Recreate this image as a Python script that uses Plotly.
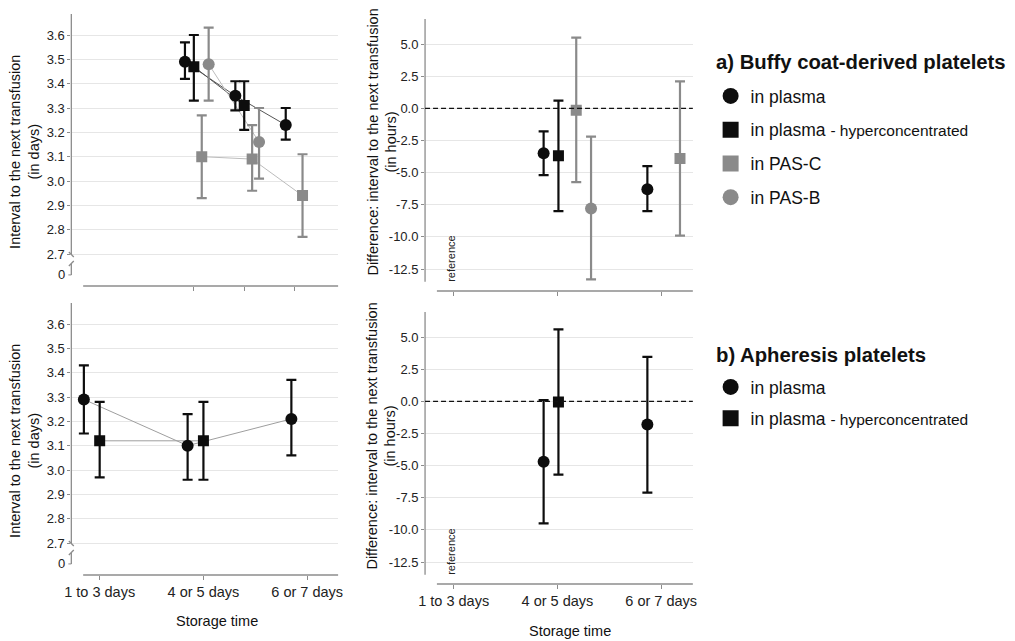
import plotly.graph_objects as go

# The page adds an 8px body margin; the figure is sized to fill the rest of the window.
OFF = 8
W, H = 1015 - OFF, 641 - OFF
FONT = "Liberation Sans, Arial, Helvetica, sans-serif"

categories = ["1 to 3 days", "4 or 5 days", "6 or 7 days"]

# ---- a) Buffy coat-derived platelets: interval to next transfusion (days)
bc_plasma_days = [3.49, 3.35, 3.23]
bc_plasma_days_lo = [3.42, 3.29, 3.17]
bc_plasma_days_hi = [3.57, 3.41, 3.30]
bc_hyper_days = [3.47, 3.31, None]
bc_hyper_days_lo = [3.33, 3.21, None]
bc_hyper_days_hi = [3.60, 3.41, None]
bc_pasc_days = [3.10, 3.09, 2.94]
bc_pasc_days_lo = [2.93, 2.96, 2.77]
bc_pasc_days_hi = [3.27, 3.23, 3.11]
bc_pasb_days = [3.48, 3.16, None]
bc_pasb_days_lo = [3.33, 3.01, None]
bc_pasb_days_hi = [3.63, 3.30, None]

# ---- a) differences vs. 1 to 3 days (hours)
bc_plasma_diff = [None, -3.5, -6.3]
bc_plasma_diff_lo = [None, -5.2, -8.0]
bc_plasma_diff_hi = [None, -1.8, -4.5]
bc_hyper_diff = [None, -3.7, None]
bc_hyper_diff_lo = [None, -8.0, None]
bc_hyper_diff_hi = [None, 0.6, None]
bc_pasc_diff = [None, -0.15, -3.9]
bc_pasc_diff_lo = [None, -5.75, -9.9]
bc_pasc_diff_hi = [None, 5.5, 2.1]
bc_pasb_diff = [None, -7.8, None]
bc_pasb_diff_lo = [None, -13.3, None]
bc_pasb_diff_hi = [None, -2.2, None]

# ---- b) Apheresis platelets (days)
aph_plasma_days = [3.29, 3.10, 3.21]
aph_plasma_days_lo = [3.15, 2.96, 3.06]
aph_plasma_days_hi = [3.43, 3.23, 3.37]
aph_hyper_days = [3.12, 3.12, None]
aph_hyper_days_lo = [2.97, 2.96, None]
aph_hyper_days_hi = [3.28, 3.28, None]

# ---- b) differences (hours)
aph_plasma_diff = [None, -4.7, -1.8]
aph_plasma_diff_lo = [None, -9.5, -7.1]
aph_plasma_diff_hi = [None, 0.1, 3.45]
aph_hyper_diff = [None, -0.05, None]
aph_hyper_diff_lo = [None, -5.7, None]
aph_hyper_diff_hi = [None, 5.6, None]

days_ticks = [2.7, 2.8, 2.9, 3.0, 3.1, 3.2, 3.3, 3.4, 3.5, 3.6]
diff_ticks = [5.0, 2.5, 0.0, -2.5, -5.0, -7.5, -10.0, -12.5]
broken_zero_label = "0"
reference_label = "reference"
legend_a_title = "a) Buffy coat-derived platelets"
legend_b_title = "b) Apheresis platelets"

# ---------------- styling / layout ----------------
BLACK = "#0d0d0d"
GRAY = "#8a8a8a"
AXIS_C = "#8c8c8c"
GRID_C = "#e6e6e6"
DAYS_RANGE = [2.5685, 3.6863]
BREAK_POS = 2.614
DIFF_RANGE = [-14.21, 6.944]
MSIZE = 12


def fx(px):
    return (px - OFF) / W


def fy(py):
    return 1 - (py - OFF) / H


# panel geometry in window pixels: left, right, top, bottom, category-0 px, px per category, x-axis line start
PANELS = {
    "TL": dict(x="x", y="y", box=(65, 335, 14, 286), c0=189, step=51, xl=77),
    "TR": dict(x="x2", y="y2", box=(423, 694, 19, 291), c0=452, step=105, xl=435),
    "BL": dict(x="x3", y="y3", box=(65, 335, 303, 575), c0=93.7, step=105, xl=77),
    "BR": dict(x="x4", y="y4", box=(423, 694, 312, 584), c0=452, step=105, xl=435),
}

fig = go.Figure()


def add_line(vals, panel, off, color):
    p = PANELS[panel]
    xs = [i + off / p["step"] for i, v in enumerate(vals) if v is not None]
    ys = [v for v in vals if v is not None]
    fig.add_trace(go.Scatter(x=xs, y=ys, mode="lines", xaxis=p["x"], yaxis=p["y"],
                             line=dict(color=color, width=1), showlegend=False,
                             hoverinfo="skip"))


def add_points(vals, lo, hi, panel, off, color, symbol):
    p = PANELS[panel]
    xs, ys, ep, em = [], [], [], []
    for i, (v, l, h) in enumerate(zip(vals, lo, hi)):
        if v is None:
            continue
        xs.append(i + off / p["step"])
        ys.append(v)
        ep.append(h - v)
        em.append(v - l)
    fig.add_trace(go.Scatter(
        x=xs, y=ys, mode="markers", xaxis=p["x"], yaxis=p["y"],
        marker=dict(size=MSIZE if symbol == "circle" else MSIZE - 1, color=color,
                    symbol=symbol, line=dict(width=0)),
        error_y=dict(type="data", symmetric=False, array=ep, arrayminus=em,
                     color=color, thickness=2.2, width=5),
        showlegend=False, hoverinfo="skip"))


# lines (drawn first)
add_line(bc_plasma_days, "TL", -9, "#555555")
add_line(bc_hyper_days, "TL", 0, "#555555")
add_line(bc_pasc_days, "TL", 8, "#bcbcbc")
add_line(bc_pasb_days, "TL", 15, "#bcbcbc")
add_line(aph_plasma_days, "BL", -16, "#9e9e9e")
add_line(aph_hyper_days, "BL", 0, "#9e9e9e")

# points with CI
add_points(bc_plasma_days, bc_plasma_days_lo, bc_plasma_days_hi, "TL", -9, BLACK, "circle")
add_points(bc_hyper_days, bc_hyper_days_lo, bc_hyper_days_hi, "TL", 0, BLACK, "square")
add_points(bc_pasc_days, bc_pasc_days_lo, bc_pasc_days_hi, "TL", 8, GRAY, "square")
add_points(bc_pasb_days, bc_pasb_days_lo, bc_pasb_days_hi, "TL", 15, GRAY, "circle")

add_points(bc_plasma_diff, bc_plasma_diff_lo, bc_plasma_diff_hi, "TR", -14, BLACK, "circle")
add_points(bc_hyper_diff, bc_hyper_diff_lo, bc_hyper_diff_hi, "TR", 1, BLACK, "square")
add_points(bc_pasc_diff, bc_pasc_diff_lo, bc_pasc_diff_hi, "TR", 19, GRAY, "square")
add_points(bc_pasb_diff, bc_pasb_diff_lo, bc_pasb_diff_hi, "TR", 34, GRAY, "circle")

add_points(aph_plasma_days, aph_plasma_days_lo, aph_plasma_days_hi, "BL", -16, BLACK, "circle")
add_points(aph_hyper_days, aph_hyper_days_lo, aph_hyper_days_hi, "BL", 0, BLACK, "square")

add_points(aph_plasma_diff, aph_plasma_diff_lo, aph_plasma_diff_hi, "BR", -14, BLACK, "circle")
add_points(aph_hyper_diff, aph_hyper_diff_lo, aph_hyper_diff_hi, "BR", 1, BLACK, "square")

# legend entries
SMALL = '<span style="font-size:15.5px">- hyperconcentrated</span>'
legend_a = [("in plasma", BLACK, "circle"), ("in plasma " + SMALL, BLACK, "square"),
            ("in PAS-C", GRAY, "square"), ("in PAS-B", GRAY, "circle")]
legend_b = [("in plasma", BLACK, "circle"), ("in plasma " + SMALL, BLACK, "square")]
for k, (nm, c, s) in enumerate(legend_a):
    fig.add_trace(go.Scatter(x=[None], y=[None], mode="markers", name=nm,
                             marker=dict(size=16, color=c, symbol=s),
                             legend="legend", legendgroup="a%d" % k, showlegend=True))
for k, (nm, c, s) in enumerate(legend_b):
    fig.add_trace(go.Scatter(x=[None], y=[None], mode="markers", name=nm,
                             marker=dict(size=16, color=c, symbol=s),
                             legend="legend2", legendgroup="b%d" % k, showlegend=True))

layout = dict(width=W, height=H, autosize=False, margin=dict(l=0, r=0, t=0, b=0),
              paper_bgcolor="white", plot_bgcolor="white",
              font=dict(family=FONT, color="#111"), showlegend=True)

for key, p in PANELS.items():
    xn = "xaxis" + p["x"][1:]
    yn = "yaxis" + p["y"][1:]
    l, r, t, b = p["box"]
    bottom = key in ("BL", "BR")
    layout[xn] = dict(domain=[fx(l), fx(r)], anchor=p["y"],
                      range=[(l - p["c0"]) / p["step"], (r - p["c0"]) / p["step"]],
                      tickvals=[0, 1, 2], ticktext=categories, showticklabels=bottom,
                      ticks="outside", ticklen=4, tickcolor=AXIS_C, tickwidth=1,
                      tickfont=dict(size=14.5, color="#222"),
                      showgrid=False, zeroline=False, showline=False, fixedrange=True)
    if key in ("TL", "BL"):
        layout[yn] = dict(domain=[fy(b), fy(t)], anchor=p["x"], range=DAYS_RANGE,
                          tickvals=days_ticks, ticktext=["%.1f" % v for v in days_ticks])
    else:
        layout[yn] = dict(domain=[fy(b), fy(t)], anchor=p["x"], range=DIFF_RANGE,
                          tickvals=diff_ticks, ticktext=["%.1f" % v for v in diff_ticks])
    layout[yn].update(ticks="outside", ticklen=3, tickcolor=AXIS_C, tickwidth=1,
                      tickfont=dict(size=13, color="#222"), showgrid=True,
                      gridcolor=GRID_C, gridwidth=1, zeroline=False, showline=False,
                      fixedrange=True)

shapes = []
annotations = []
LW = 1.3
for key, p in PANELS.items():
    l, r, t, b = p["box"]
    # x axis line (detached from the y axis)
    shapes.append(dict(type="line", xref="paper", yref="paper", x0=fx(p["xl"]), x1=fx(r),
                       y0=fy(b), y1=fy(b), line=dict(color=AXIS_C, width=LW)))
    ya = p["y"]
    if key in ("TL", "BL"):
        px = (DAYS_RANGE[1] - DAYS_RANGE[0]) / (b - t)  # data units per pixel
        shapes.append(dict(type="line", xref="paper", yref=ya, x0=fx(l), x1=fx(l),
                           y0=2.7 - 1 * px, y1=DAYS_RANGE[1], line=dict(color=AXIS_C, width=LW)))
        shapes.append(dict(type="line", xref="paper", yref=ya, x0=fx(l - 2.5), x1=fx(l + 2.5),
                           y0=2.7 + 2 * px, y1=2.7 - 3 * px, line=dict(color=AXIS_C, width=LW)))
        shapes.append(dict(type="line", xref="paper", yref=ya, x0=fx(l - 2.5), x1=fx(l + 2.5),
                           y0=2.7 - 12 * px, y1=2.7 - 7 * px, line=dict(color=AXIS_C, width=LW)))
        shapes.append(dict(type="line", xref="paper", yref=ya, x0=fx(l), x1=fx(l),
                           y0=BREAK_POS, y1=2.7 - 10 * px, line=dict(color=AXIS_C, width=LW)))
        shapes.append(dict(type="line", xref="paper", yref=ya, x0=fx(l - 3), x1=fx(l),
                           y0=BREAK_POS, y1=BREAK_POS, line=dict(color=AXIS_C, width=1)))
        annotations.append(dict(xref="paper", yref=ya, x=fx(l - 4), y=BREAK_POS,
                                text=broken_zero_label, showarrow=False, xanchor="right",
                                yanchor="middle", font=dict(size=13, color="#222")))
    else:
        shapes.append(dict(type="line", xref="paper", yref=ya, x0=fx(l), x1=fx(l),
                           y0=-13.5, y1=DIFF_RANGE[1], line=dict(color=AXIS_C, width=LW)))
        shapes.append(dict(type="line", xref=p["x"] + " domain", yref=ya, x0=0, x1=1,
                           y0=0, y1=0, line=dict(color="#111", width=1.3, dash="5px,3px")))
        annotations.append(dict(xref=p["x"], yref=p["y"] + " domain", x=-0.02, y=0.025,
                                text=reference_label, textangle=-90, showarrow=False,
                                xanchor="center", yanchor="bottom",
                                font=dict(size=11, color="#222")))

# axis titles
for (cx, cy) in [(17, 152), (17, 441)]:
    annotations.append(dict(xref="paper", yref="paper", x=fx(cx), y=fy(cy),
                            text="Interval to the next transfusion<br>(in days)",
                            textangle=-90, showarrow=False, xanchor="center", yanchor="middle",
                            font=dict(size=14.5, color="#111")))
for (cx, cy) in [(379, 142), (379, 436)]:
    annotations.append(dict(xref="paper", yref="paper", x=fx(cx), y=fy(cy),
                            text="Difference: interval to the next transfusion<br>(in hours)",
                            textangle=-90, showarrow=False, xanchor="center", yanchor="middle",
                            font=dict(size=14.5, color="#111")))
for (cx, cy) in [(212, 621), (570, 631)]:
    annotations.append(dict(xref="paper", yref="paper", x=fx(cx), y=fy(cy),
                            text="Storage time", showarrow=False, xanchor="center",
                            yanchor="middle", font=dict(size=14.5, color="#111")))

# legend titles
for (txt, cy) in [(legend_a_title, 62), (legend_b_title, 355)]:
    annotations.append(dict(xref="paper", yref="paper", x=fx(715), y=fy(cy), text=txt,
                            showarrow=False, xanchor="left", yanchor="middle",
                            font=dict(size=20.3, weight="bold", color="#111")))

layout["shapes"] = shapes
layout["annotations"] = annotations
layout["legend"] = dict(x=fx(712), y=fy(78), xanchor="left", yanchor="top",
                        font=dict(size=17.5, color="#111"), bgcolor="rgba(0,0,0,0)",
                        tracegroupgap=8, itemclick=False, itemdoubleclick=False)
layout["legend2"] = dict(x=fx(712), y=fy(369), xanchor="left", yanchor="top",
                         font=dict(size=17.5, color="#111"), bgcolor="rgba(0,0,0,0)",
                         tracegroupgap=5.5, itemclick=False, itemdoubleclick=False)

fig.update_layout(**layout)
fig.write_html("out.html", config={"displayModeBar": False})
